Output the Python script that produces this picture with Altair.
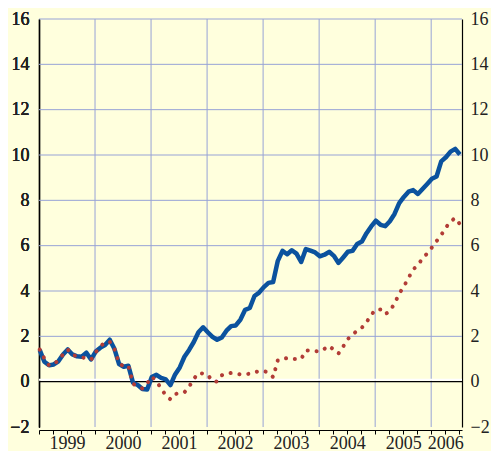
import altair as alt
import pandas as pd

# ---- data (monthly, Jan 1999 .. Jul 2006) ----
years = ["1999", "2000", "2001", "2002", "2003", "2004", "2005", "2006"]

blue = [1.40, 0.88, 0.72, 0.76, 0.90, 1.20, 1.42, 1.20, 1.12, 1.10, 1.28, 0.98,
        1.33, 1.50, 1.62, 1.85, 1.45, 0.78, 0.66, 0.70, -0.05, -0.15, -0.32, -0.35,
        0.20, 0.30, 0.17, 0.10, -0.15, 0.32, 0.63, 1.10, 1.40, 1.75, 2.18, 2.40,
        2.18, 1.98, 1.85, 1.95, 2.25, 2.45, 2.48, 2.74, 3.17, 3.25, 3.78, 3.93,
        4.17, 4.36, 4.40, 5.33, 5.77, 5.62, 5.80, 5.65, 5.28, 5.85, 5.78, 5.70,
        5.53, 5.60, 5.73, 5.55, 5.24, 5.48, 5.73, 5.77, 6.07, 6.18, 6.55, 6.85,
        7.10, 6.92, 6.86, 7.08, 7.40, 7.88, 8.15, 8.38, 8.45, 8.28, 8.50, 8.72,
        8.95, 9.05, 9.72, 9.90, 10.15, 10.27, 10.02]

red = [1.42, 1.02, 0.72, 0.76, 0.95, 1.20, 1.42, 1.18, 1.12, 1.08, 1.02, 0.97,
       1.30, 1.55, 1.75, 1.76, 1.45, 0.80, 0.68, 0.70, -0.10, -0.20, -0.30, -0.08,
       0.22, 0.02, -0.30, -0.60, -0.78, -0.55, -0.50, -0.47, -0.22, 0.12, 0.38, 0.36,
       0.30, 0.02, 0.00, 0.28, 0.36, 0.38, 0.35, 0.32, 0.33, 0.35, 0.42, 0.46,
       0.47, 0.40, 0.20, 0.95, 1.00, 1.04, 1.00, 1.00, 1.00, 1.37, 1.37, 1.35,
       1.33, 1.45, 1.58, 1.40, 1.24, 1.55, 1.88, 2.08, 2.25, 2.38, 2.62, 2.95,
       3.18, 3.18, 2.97, 3.12, 3.45, 3.88, 4.20, 4.58, 4.95, 5.15, 5.43, 5.66,
       5.92, 6.20, 6.47, 6.80, 7.07, 7.22, 6.95]

y_ticks = [-2, 0, 2, 4, 6, 8, 10, 12, 14, 16]

# ---- tables built from the arrays ----
n = len(blue)
lines = pd.DataFrame({"m": [i + 0.15 for i in range(n)], "blue": blue, "red": red})
hgrid = pd.DataFrame({"v": [t for t in y_ticks if t > 0]})
vgrid = pd.DataFrame({"m": [12 * k for k in range(1, len(years))]})
zero = pd.DataFrame({"v": [0]})

label_pos = [12 * k + 6 for k in range(len(years) - 1)] + [87]
expr = ""
for p, yr in zip(label_pos, years):
    expr += f"datum.value == {p} ? '{yr}' : "
expr += "''"

FONT = "Liberation Serif, Times New Roman, Times, serif"
GRID = "#97A3D6"
xs = alt.Scale(domain=[0, 90.6], nice=False, zero=False)
ys = alt.Scale(domain=[-2, 16], nice=False, zero=False)

xaxis = alt.Axis(orient="bottom", values=list(range(0, 91, 3)), labelExpr=expr,
                 offset=3, tickSize=4, tickColor="black", tickWidth=1,
                 domainColor="black", domainWidth=1, grid=False,
                 labelFont=FONT, labelFontSize=18, labelColor="#222222",
                 labelPadding=0, labelFlush=False, labelOverlap=False,
                 labelBound=False, title=None)
left_axis = alt.Axis(orient="left", values=y_ticks, format="d", grid=False,
                     ticks=False, domainColor="black", domainWidth=1.2,
                     labelFont=FONT, labelFontSize=18, labelColor="#222222",
                     labelPadding=10, labelOverlap=False, title=None)
right_axis = alt.Axis(orient="right", values=y_ticks, format="d", grid=False,
                      ticks=False, domainColor="black", domainWidth=1.2,
                      labelFont=FONT, labelFontSize=18, labelColor="#222222",
                      labelPadding=8, labelOverlap=False, title=None)

hg = alt.Chart(hgrid).mark_rule(color=GRID, strokeWidth=1).encode(
    y=alt.Y("v:Q", scale=ys, axis=left_axis))
vg = alt.Chart(vgrid).mark_rule(color=GRID, strokeWidth=1).encode(
    x=alt.X("m:Q", scale=xs, axis=xaxis))
zw = alt.Chart(zero).mark_rule(color="white", strokeWidth=2, yOffset=-2).encode(
    y=alt.Y("v:Q", scale=ys, axis=left_axis))
zb = alt.Chart(zero).mark_rule(color="black", strokeWidth=1.2).encode(
    y=alt.Y("v:Q", scale=ys, axis=left_axis))

bl = alt.Chart(lines).mark_line(color="#0B529E", strokeWidth=4.5,
                                strokeJoin="round").encode(
    x=alt.X("m:Q", scale=xs, axis=xaxis),
    y=alt.Y("blue:Q", scale=ys, axis=left_axis))
rd = alt.Chart(lines).mark_line(color="#B23C36", strokeWidth=4,
                                strokeDash=[0.1, 8.8], strokeCap="round").encode(
    x=alt.X("m:Q", scale=xs, axis=xaxis),
    y=alt.Y("red:Q", scale=ys, axis=right_axis))

chart = alt.layer(hg, vg, zw, zb, bl, rd).resolve_axis(y="independent").properties(
    width=423, height=408,
    background="#FFFFDD",
    autosize=alt.AutoSizeParams(type="none"),
    padding={"left": 31, "top": 11, "right": 29, "bottom": 24},
).configure_view(stroke=None)

chart.save("out.html", embed_options={"renderer": "svg", "actions": False})
